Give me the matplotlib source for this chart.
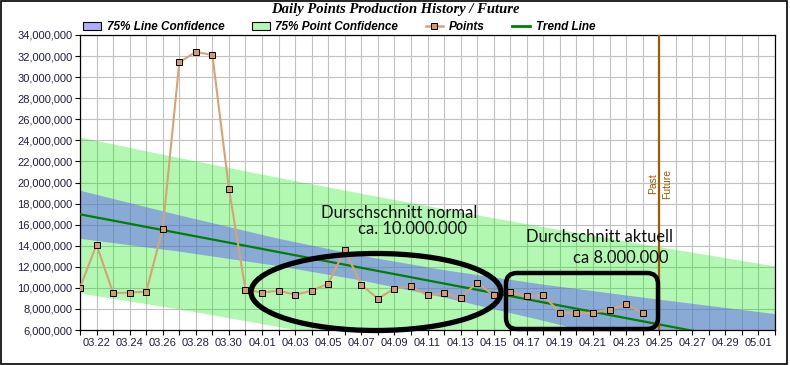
import matplotlib
matplotlib.use("Agg")
import matplotlib.pyplot as plt
import matplotlib.dates as mdates
from matplotlib.patches import Patch, Ellipse, FancyBboxPatch, Rectangle
from matplotlib.lines import Line2D
from matplotlib.ticker import FuncFormatter, MultipleLocator
import matplotlib.transforms as mtrans
import pandas as pd

# daily points, 03.21 - 04.24 (millions)
point_dates = pd.date_range("2011-03-21", "2011-04-24", freq="D")
points = [10.02, 14.1, 9.5, 9.55, 9.64, 15.6, 31.4, 32.4, 32.1, 19.4,
          9.83, 9.55, 9.73, 9.35, 9.73, 10.4, 13.6, 10.3, 8.97, 9.92,
          10.15, 9.29, 9.51, 9.07, 10.49, 9.29, 9.64, 9.2, 9.29, 7.65,
          7.58, 7.65, 7.93, 8.44, 7.65]

# trend line end points (millions)
trend_dates = pd.to_datetime(["2011-03-21", "2011-05-02"])
trend = [16.98, 4.44]

# confidence band edges read at a few dates (millions)
band_dates = pd.to_datetime(["2011-03-21", "2011-03-27", "2011-04-02", "2011-04-07",
                             "2011-04-12", "2011-04-18", "2011-04-24", "2011-05-02"])
line_conf_hi = [19.26, 16.92, 14.70, 13.08, 11.72, 10.35, 9.12, 7.55]
line_conf_lo = [14.70, 13.48, 12.10, 10.74, 9.12, 6.91, 4.56, 1.33]
point_conf_hi = [24.31, 22.36, 20.48, 18.97, 17.50, 15.80, 14.17, 12.08]
point_conf_lo = [9.50, 8.00, 6.32, 4.85, 3.34, 1.46, -0.49, -3.20]

now_date = pd.Timestamp("2011-04-25")
x_start = pd.Timestamp("2011-03-21")
x_end = pd.Timestamp("2011-05-02")

M = 1e6
green = (0.0, 0.92, 0.0, 0.3)
blue = (0.38, 0.365, 0.976, 0.5)
brown = "#a05a00"
tan = "#d9a273"

fig = plt.figure(figsize=(7.9, 3.65), dpi=100)
ax = fig.add_axes([80 / 790, 35 / 365, 695 / 790, 295 / 365])

ax.fill_between(band_dates, [v * M for v in point_conf_lo], [v * M for v in point_conf_hi],
                color=green, lw=0, zorder=1)
ax.fill_between(band_dates, [v * M for v in line_conf_lo], [v * M for v in line_conf_hi],
                color=blue, lw=0, zorder=1.1)
ax.plot(trend_dates, [v * M for v in trend], color="#008000", lw=1.6, zorder=3)
ax.plot(point_dates, [v * M for v in points], color=tan, lw=1.5, marker="s", ms=4.6,
        mfc="#d49a68", mec="black", mew=0.7, zorder=4)
ax.axvline(now_date, color=brown, lw=1.6, zorder=5)

ax.annotate("Past", xy=(now_date, 19.9 * M), xytext=(-6.5, 0), textcoords="offset pixels",
            rotation=90, ha="center", va="center", fontsize=7.5, color=brown,
            family="Liberation Sans")
ax.annotate("Future", xy=(now_date, 19.9 * M), xytext=(7.5, 0), textcoords="offset pixels",
            rotation=90, ha="center", va="center", fontsize=7.5, color=brown,
            family="Liberation Sans")

ax.set_xlim(x_start, x_end)
ax.set_ylim(6 * M, 34 * M)
ax.set_xticks(pd.date_range("2011-03-22", "2011-05-01", freq="2D"))
ax.xaxis.set_minor_locator(mdates.DayLocator())
ax.xaxis.set_major_formatter(mdates.DateFormatter("%m.%d"))
ax.yaxis.set_major_locator(MultipleLocator(2 * M))
ax.yaxis.set_major_formatter(FuncFormatter(lambda v, p: f"{v:,.0f}"))

ax.set_axisbelow(True)
ax.grid(True, which="both", axis="x", color="#c0c0c0", lw=0.8)
ax.grid(True, which="major", axis="y", color="#c0c0c0", lw=0.8)
ax.tick_params(which="both", direction="out", length=3.5, width=0.8, color="black")
ax.tick_params(axis="both", labelsize=8, labelcolor="#202040", pad=2)
for lab in ax.get_xticklabels() + ax.get_yticklabels():
    lab.set_family("Liberation Sans")
for s in ax.spines.values():
    s.set_linewidth(0.9)
    s.set_color("black")

# hand drawn marks
ax.add_patch(Ellipse(((376 - 80) / 695, (330 - 292) / 295), 250 / 695, 77 / 295,
                     transform=ax.transAxes, fill=False, ec="black", lw=3.8,
                     clip_on=False, zorder=6))
ax.add_patch(FancyBboxPatch((506, 365 - 329), 152, 56,
                            boxstyle="round,pad=0,rounding_size=11",
                            transform=mtrans.IdentityTransform(), fill=False,
                            ec="black", lw=3.2, clip_on=False, zorder=6))

note_font = dict(family="Lato", fontsize=11.9, color="#101010", ha="center", va="center",
                 transform=ax.transAxes, zorder=7)
ax.text((399 - 80) / 695, (330 - 213) / 295, "Durschschnitt normal", **note_font)
ax.text((412 - 80) / 695, (330 - 229) / 295, "ca. 10.000.000", **note_font)
ax.text((600 - 80) / 695, (330 - 237) / 295, "Durchschnitt aktuell", **note_font)
ax.text((621 - 80) / 695, (330 - 258) / 295, "ca 8.000.000", **note_font)

handles = [
    Patch(facecolor=blue, edgecolor="black", lw=0.8, label="75% Line Confidence"),
    Patch(facecolor=green, edgecolor="black", lw=0.8, label="75% Point Confidence"),
    Line2D([], [], color=tan, lw=1.8, marker="s", ms=4.5, mfc="#d49a68", mec="black",
           mew=0.7, label="Points"),
    Line2D([], [], color="#008000", lw=2, label="Trend Line"),
]
ax.legend(handles=handles, loc="center left", bbox_to_anchor=(0.005, 1.027), ncol=4,
          frameon=False, borderaxespad=0, borderpad=0, handlelength=1.5,
          handletextpad=0.5, columnspacing=2.3,
          prop=dict(family="Liberation Sans", weight="bold", style="italic", size=8.5))

fig.text(0.5, 1 - 10 / 365, "Daily Points Production History / Future", ha="center",
         va="center", family="Liberation Serif", weight="bold", style="italic", fontsize=10.5)

fig.patches.append(Rectangle((0.5 / 790, 1.5 / 365), 786.5 / 790, 363 / 365,
                             transform=fig.transFigure, fill=False, ec="black", lw=1.2))

fig.savefig("out.png", dpi=100)
